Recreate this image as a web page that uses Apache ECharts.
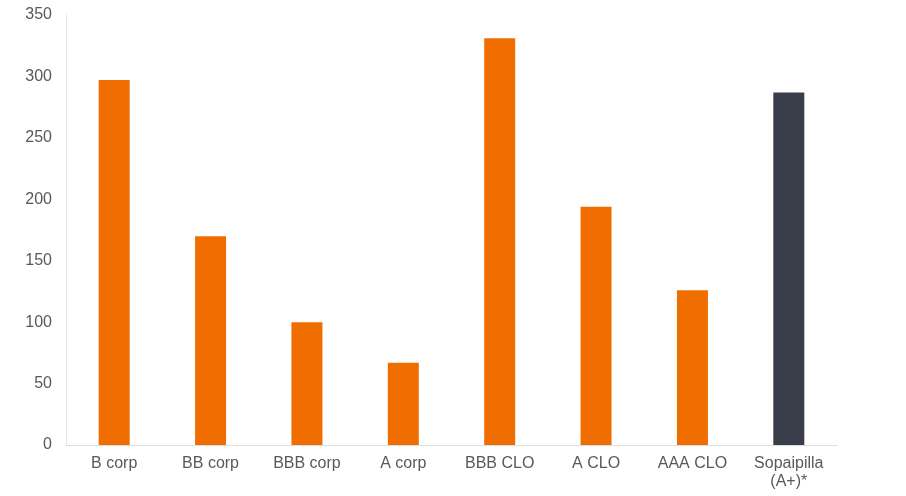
<!DOCTYPE html>
<html>
<head>
<meta charset="utf-8">
<script src="https://cdn.jsdelivr.net/npm/echarts@6/dist/echarts.min.js"></script>
<style>
  html, body { margin: 0; padding: 0; background: #fff; }
  #main { width: 906px; height: 496px; }
</style>
</head>
<body>
<div id="main"></div>
<script>
var categories = ['B corp', 'BB corp', 'BBB corp', 'A corp', 'BBB CLO', 'A CLO', 'AAA CLO', 'Sopaipilla\n(A+)*'];
var values = [297, 170, 100, 67, 331, 194, 126, 287];
var yTicks = [0, 50, 100, 150, 200, 250, 300, 350];

var orange = '#f06e00';
var dark = '#393e4a';

var chart = echarts.init(document.getElementById('main'));
chart.setOption({
    animation: false,
    grid: {
        left: 66,
        right: 69,
        top: 15,
        bottom: 51
    },
    xAxis: {
        type: 'category',
        data: categories,
        axisLine: { lineStyle: { color: '#dcdde0', width: 1 } },
        axisTick: { show: false },
        axisLabel: {
            color: '#595959',
            fontFamily: 'Liberation Sans',
            fontSize: 16,
            margin: 10,
            lineHeight: 18,
            interval: 0
        }
    },
    yAxis: {
        type: 'value',
        min: yTicks[0],
        max: yTicks[yTicks.length - 1],
        interval: 50,
        axisLine: { show: true, lineStyle: { color: '#e6e6e8', width: 1 } },
        axisTick: { show: false },
        splitLine: { show: false },
        axisLabel: {
            color: '#595959',
            fontFamily: 'Liberation Sans',
            fontSize: 16,
            margin: 14
        }
    },
    series: [{
        type: 'bar',
        barWidth: 31,
        data: values.map(function (v, i) {
            // last bar (Sopaipilla) is drawn in dark grey
            return {
                value: v,
                itemStyle: { color: i === values.length - 1 ? dark : orange }
            };
        })
    }]
});
</script>
</body>
</html>
